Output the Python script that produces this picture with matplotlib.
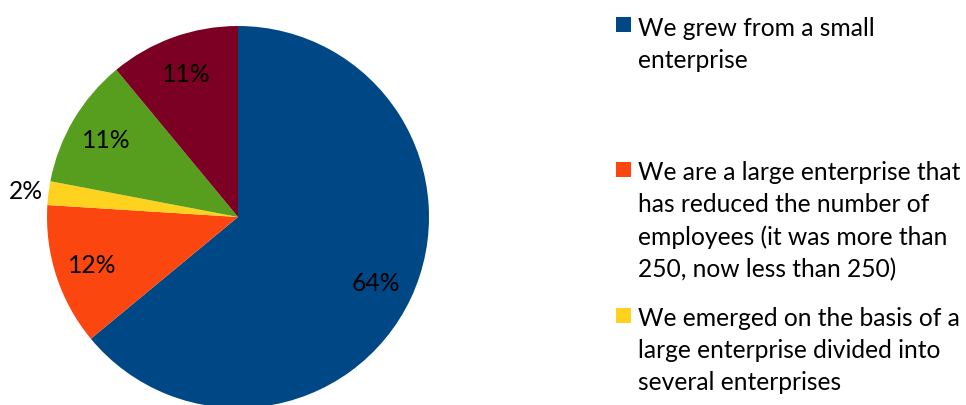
import matplotlib
matplotlib.use('Agg')
import matplotlib.pyplot as plt
from matplotlib.patches import Rectangle

# Share of respondents by origin of the enterprise
categories = [
    "We grew from a small\nenterprise",
    "We are a large enterprise that\nhas reduced the number of\nemployees (it was more than\n250, now less than 250)",
    "We emerged on the basis of a\nlarge enterprise divided into\nseveral enterprises",
]
values = [64, 12, 2, 11, 11]
colors = ['#004785', '#FC4610', '#FFD220', '#589E1E', '#7C0024']

plt.rcParams['font.family'] = ['Lato', 'DejaVu Sans']
FS = 17.7

W, H = 966, 406
fig = plt.figure(figsize=(W / 100, H / 100), dpi=100, facecolor='white')
ax = fig.add_axes([0, 0, 1, 1])

cx, cy = 238, H - 218
wedges, texts = ax.pie(values, colors=colors, startangle=90, counterclock=False,
                       center=(cx, cy), radius=191,
                       labels=[f"{v}%" for v in values], labeldistance=0.8,
                       textprops={'fontsize': FS, 'color': 'black'},
                       wedgeprops={'linewidth': 0})
# pie() resets the limits, so fix them afterwards
ax.set_xlim(0, W)
ax.set_ylim(0, H)
ax.set_aspect('equal')
ax.axis('off')

for t in texts:
    t.set_ha('center')
    t.set_va('center')

# the thin slice gets its label outside the pie
x, y = texts[2].get_position()
texts[2].set_position((cx + (x - cx) * 1.4, cy + (y - cy) * 1.4))

# legend drawn by hand
centers = [25.5, 170, 316]
for label, col, c in zip(categories, colors, centers):
    ax.add_patch(Rectangle((616, H - c - 7.5), 15, 15, color=col, lw=0))
    ax.text(638, H - c + 9, label, fontsize=FS, va='top', ha='left',
            linespacing=1.48)

fig.savefig('out.png', dpi=100)
